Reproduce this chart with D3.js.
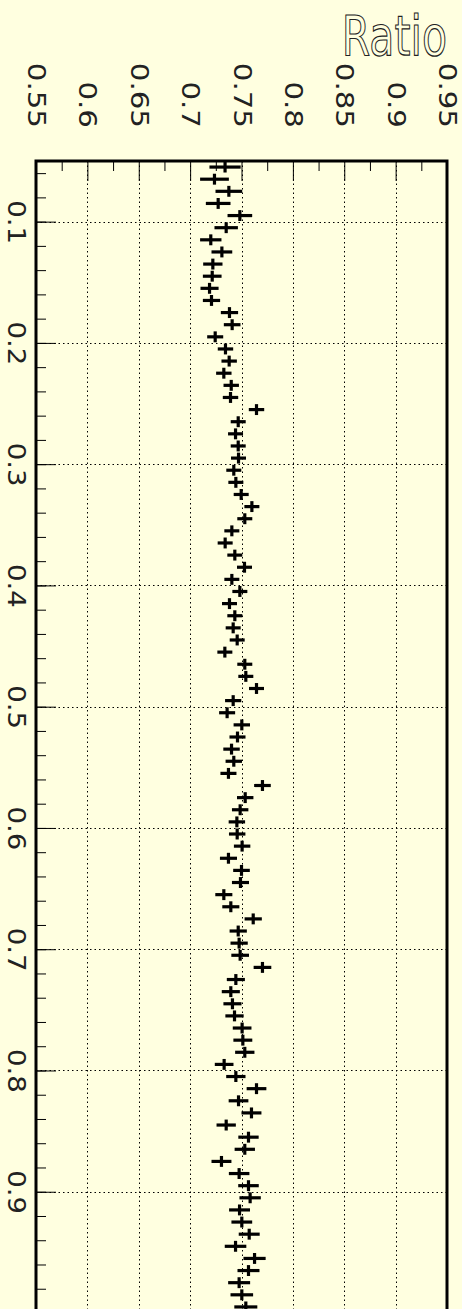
<!DOCTYPE html>
<html>
<head>
<meta charset="utf-8">
<script src="https://cdn.jsdelivr.net/npm/d3@7"></script>
<style>
  body { margin: 0; background: #ffffe0; }
  svg { display: block; }
</style>
</head>
<body>
<svg id="chart"></svg>
<script>
// bin centres along x
const binCenters = [
  0.055, 0.065, 0.075, 0.085, 0.095, 0.105, 0.115, 0.125, 0.135, 0.145,
  0.155, 0.165, 0.175, 0.185, 0.195, 0.205, 0.215, 0.225, 0.235, 0.245,
  0.255, 0.265, 0.275, 0.285, 0.295, 0.305, 0.315, 0.325, 0.335, 0.345,
  0.355, 0.365, 0.375, 0.385, 0.395, 0.405, 0.415, 0.425, 0.435, 0.445,
  0.455, 0.465, 0.475, 0.485, 0.495, 0.505, 0.515, 0.525, 0.535, 0.545,
  0.555, 0.565, 0.575, 0.585, 0.595, 0.605, 0.615, 0.625, 0.635, 0.645,
  0.655, 0.665, 0.675, 0.685, 0.695, 0.705, 0.715, 0.725, 0.735, 0.745,
  0.755, 0.765, 0.775, 0.785, 0.795, 0.805, 0.815, 0.825, 0.835, 0.845,
  0.855, 0.865, 0.875, 0.885, 0.895, 0.905, 0.915, 0.925, 0.935, 0.945,
  0.955, 0.965, 0.975, 0.985, 0.995
];
const binHalfWidth = 0.0045;

// ratio per bin
const ratios = [
  0.7340, 0.7237, 0.7377, 0.7273, 0.7484, 0.7351, 0.7201, 0.7309, 0.7221, 0.7215,
  0.7189, 0.7208, 0.7383, 0.7409, 0.7244, 0.7344, 0.7380, 0.7328, 0.7400, 0.7393,
  0.7646, 0.7468, 0.7442, 0.7468, 0.7471, 0.7425, 0.7445, 0.7497, 0.7601, 0.7532,
  0.7406, 0.7341, 0.7435, 0.7529, 0.7406, 0.7484, 0.7383, 0.7435, 0.7419, 0.7458,
  0.7338, 0.7532, 0.7542, 0.7646, 0.7419, 0.7360, 0.7503, 0.7461, 0.7403, 0.7425,
  0.7373, 0.7704, 0.7536, 0.7487, 0.7455, 0.7458, 0.7506, 0.7373, 0.7500, 0.7490,
  0.7328, 0.7396, 0.7614, 0.7468, 0.7477, 0.7487, 0.7704, 0.7445, 0.7396, 0.7412,
  0.7432, 0.7506, 0.7513, 0.7532, 0.7331, 0.7445, 0.7646, 0.7471, 0.7597, 0.7351,
  0.7568, 0.7532, 0.7305, 0.7477, 0.7568, 0.7584, 0.7481, 0.7503, 0.7575, 0.7442,
  0.7627, 0.7568, 0.7477, 0.7503, 0.7542
];

// error on the ratio
const ratioErrors = [
  0.0152, 0.0140, 0.0130, 0.0120, 0.0120, 0.0114, 0.0104, 0.0101, 0.0094, 0.0091,
  0.0088, 0.0084, 0.0084, 0.0081, 0.0078, 0.0075, 0.0075, 0.0075, 0.0075, 0.0075,
  0.0075, 0.0073, 0.0073, 0.0073, 0.0073, 0.0073, 0.0073, 0.0073, 0.0073, 0.0073,
  0.0073, 0.0073, 0.0073, 0.0073, 0.0073, 0.0073, 0.0073, 0.0073, 0.0073, 0.0073,
  0.0073, 0.0073, 0.0073, 0.0073, 0.0079, 0.0078, 0.0080, 0.0078, 0.0080, 0.0080,
  0.0078, 0.0081, 0.0080, 0.0080, 0.0080, 0.0080, 0.0080, 0.0083, 0.0081, 0.0083,
  0.0083, 0.0083, 0.0084, 0.0084, 0.0084, 0.0086, 0.0086, 0.0088, 0.0088, 0.0088,
  0.0089, 0.0091, 0.0092, 0.0094, 0.0091, 0.0094, 0.0096, 0.0096, 0.0097, 0.0094,
  0.0099, 0.0099, 0.0097, 0.0100, 0.0100, 0.0104, 0.0102, 0.0101, 0.0102, 0.0105,
  0.0108, 0.0107, 0.0107, 0.0110, 0.0112
];

const ratioTicks = [0.55, 0.6, 0.65, 0.7, 0.75, 0.8, 0.85, 0.9, 0.95];
const ratioLabels = ['0.55', '0.6', '0.65', '0.7', '0.75', '0.8', '0.85', '0.9', '0.95'];
const xTicks = [0.1, 0.2, 0.3, 0.4, 0.5, 0.6, 0.7, 0.8, 0.9];
const xLabels = ['0.1', '0.2', '0.3', '0.4', '0.5', '0.6', '0.7', '0.8', '0.9'];
const titleText = 'Ratio';

const width = 462;
const height = 1309;
// frame (plot is drawn turned a quarter turn: x runs down, ratio runs right)
const frameLeft = 36, frameRight = 447, frameTop = 161, frameBottom = 1313;
const font = '"DejaVu Sans", sans-serif';

const svg = d3.select('#chart')
  .attr('width', width)
  .attr('height', height);

svg.append('rect')
  .attr('width', width)
  .attr('height', height)
  .attr('fill', '#ffffe0');

const r = d3.scaleLinear().domain([0.55, 0.95]).range([frameLeft, frameRight]);
const xs = d3.scaleLinear().domain([0.05, 1.0]).range([frameTop, frameBottom]);

// dotted grid
const grid = svg.append('g')
  .attr('stroke', '#000')
  .attr('stroke-width', 1)
  .attr('stroke-dasharray', '1.5,3');
grid.selectAll('line.v')
  .data(ratioTicks.slice(1, -1))
  .join('line')
  .attr('class', 'v')
  .attr('x1', d => Math.round(r(d)) + 0.5)
  .attr('x2', d => Math.round(r(d)) + 0.5)
  .attr('y1', frameTop)
  .attr('y2', frameBottom);
grid.selectAll('line.h')
  .data(xTicks)
  .join('line')
  .attr('class', 'h')
  .attr('y1', d => Math.round(xs(d)) + 0.5)
  .attr('y2', d => Math.round(xs(d)) + 0.5)
  .attr('x1', frameLeft)
  .attr('x2', frameRight);

// ratio axis along the top, ticks pointing in
const topAxis = svg.append('g')
  .attr('transform', `translate(0,${frameTop})`)
  .call(d3.axisTop(r).tickValues(ratioTicks)
    .tickFormat((d, i) => ratioLabels[i])
    .tickSize(-20).tickPadding(0))
  .call(g => g.select('.domain').remove());
svg.append('g')
  .attr('transform', `translate(0,${frameTop})`)
  .call(d3.axisTop(r).tickValues(d3.range(0.575, 0.95, 0.05))
    .tickFormat('').tickSize(-10))
  .call(g => g.select('.domain').remove());

topAxis.selectAll('text')
  .attr('x', null).attr('y', null).attr('dy', null)
  .attr('text-anchor', 'end')
  .attr('font-family', font)
  .attr('font-size', 24)
  .attr('fill', '#222')
  .attr('transform', `translate(-8.5,${128 - frameTop}) scale(1,1.22) rotate(90)`);

// x axis along the left side
const leftAxis = svg.append('g')
  .attr('transform', `translate(${frameLeft},0)`)
  .call(d3.axisLeft(xs).tickValues(xTicks)
    .tickFormat((d, i) => xLabels[i])
    .tickSize(-20).tickPadding(0))
  .call(g => g.select('.domain').remove());
svg.append('g')
  .attr('transform', `translate(${frameLeft},0)`)
  .call(d3.axisLeft(xs).tickValues(d3.range(0.06, 1.0, 0.02))
    .tickFormat('').tickSize(-10))
  .call(g => g.select('.domain').remove());

leftAxis.selectAll('text')
  .attr('x', null).attr('y', null).attr('dy', null)
  .attr('text-anchor', 'middle')
  .attr('font-family', font)
  .attr('font-size', 24)
  .attr('fill', '#222')
  .attr('transform', `translate(${7.5 - frameLeft},0) scale(1,1.15) rotate(90)`);

svg.selectAll('.tick line').attr('stroke', '#000').attr('stroke-width', 1);

// frame
svg.append('rect')
  .attr('x', frameLeft)
  .attr('y', frameTop)
  .attr('width', frameRight - frameLeft)
  .attr('height', frameBottom - frameTop)
  .attr('fill', 'none')
  .attr('stroke', '#000')
  .attr('stroke-width', 3);

// points with error bars
const points = binCenters.map((x, i) => ({ x: x, y: ratios[i], ey: ratioErrors[i] }));
const marks = svg.append('g')
  .attr('stroke', '#000')
  .attr('stroke-width', 3.2);
marks.selectAll('line.ey')
  .data(points)
  .join('line')
  .attr('class', 'ey')
  .attr('x1', d => r(d.y - d.ey))
  .attr('x2', d => r(d.y + d.ey))
  .attr('y1', d => xs(d.x))
  .attr('y2', d => xs(d.x));
marks.selectAll('line.ex')
  .data(points)
  .join('line')
  .attr('class', 'ex')
  .attr('x1', d => r(d.y))
  .attr('x2', d => r(d.y))
  .attr('y1', d => xs(d.x - binHalfWidth))
  .attr('y2', d => xs(d.x + binHalfWidth));

// axis title, upright in the corner, drawn as thin outline
svg.append('text')
  .text(titleText)
  .attr('text-anchor', 'end')
  .attr('font-family', font)
  .attr('font-size', 41)
  .attr('fill', 'none')
  .attr('stroke', '#222')
  .attr('stroke-width', 0.9)
  .attr('transform', `translate(447,55) scale(1,1.33)`);
</script>
</body>
</html>
